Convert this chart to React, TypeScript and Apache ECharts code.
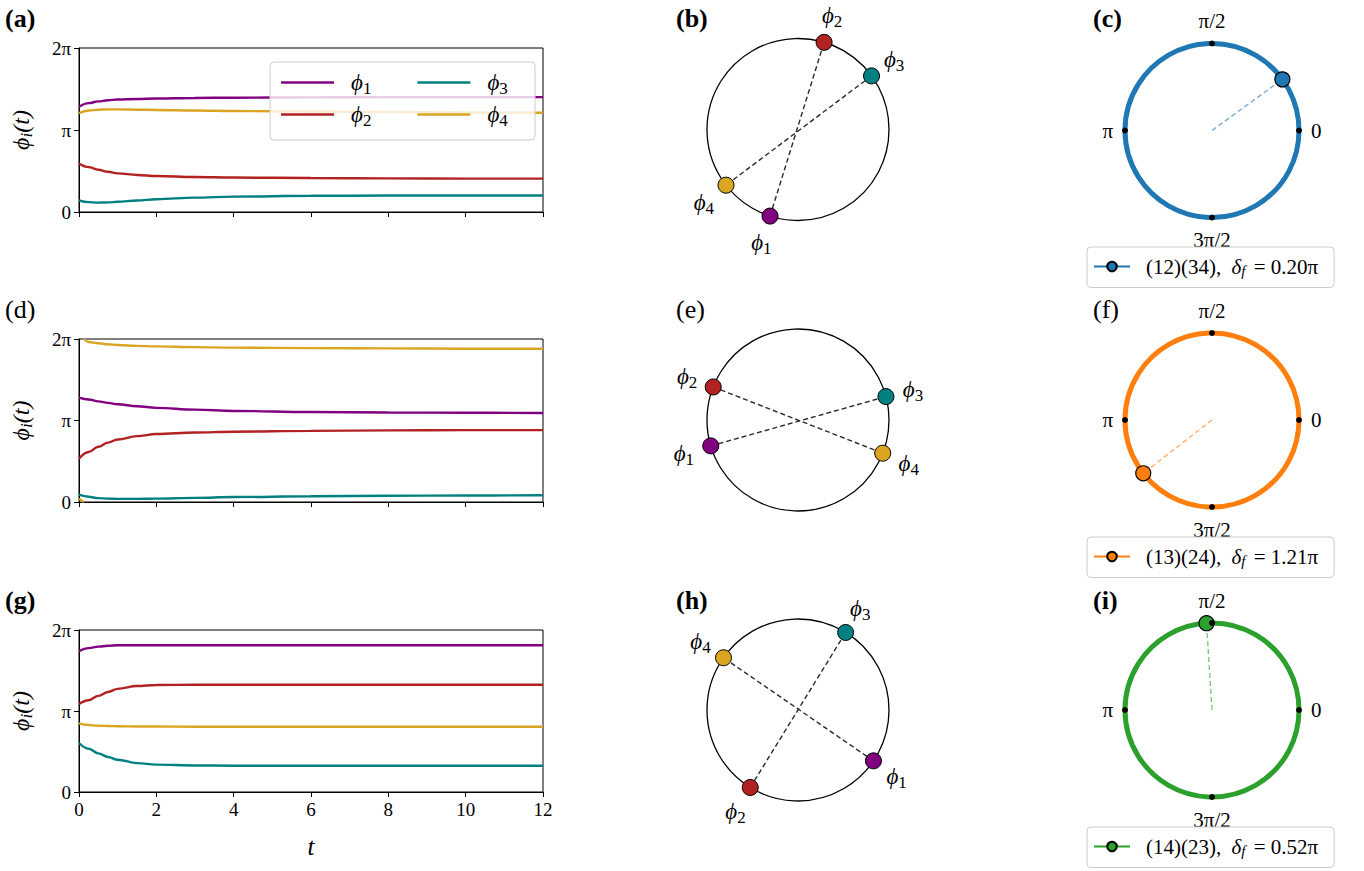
import React, { useEffect, useRef } from 'react';
import * as echarts from 'echarts';

const PI = Math.PI;
const TWO_PI = 2 * Math.PI;

// time samples (shared by all time-series panels)
const T = [0, 0.25, 0.5, 0.75, 1, 1.5, 2, 3, 4, 6, 8, 10, 12];

// panel (a)
const A_PHI1 = [4.03, 4.17, 4.24, 4.28, 4.31, 4.33, 4.35, 4.37, 4.38, 4.39, 4.40, 4.40, 4.40];
const A_PHI2 = [1.86, 1.72, 1.62, 1.54, 1.48, 1.42, 1.38, 1.34, 1.32, 1.30, 1.29, 1.28, 1.28];
const A_PHI3 = [0.44, 0.38, 0.36, 0.37, 0.39, 0.44, 0.49, 0.55, 0.59, 0.62, 0.63, 0.63, 0.63];
const A_PHI4 = [3.79, 3.89, 3.92, 3.93, 3.93, 3.92, 3.91, 3.89, 3.87, 3.85, 3.83, 3.81, 3.80];

// panel (d)
const D_PHI1 = [4.02, 3.95, 3.88, 3.82, 3.77, 3.69, 3.63, 3.56, 3.51, 3.47, 3.45, 3.44, 3.43];
const D_PHI2 = [1.67, 1.93, 2.13, 2.29, 2.41, 2.54, 2.62, 2.68, 2.71, 2.74, 2.76, 2.77, 2.77];
const D_PHI3 = [0.28, 0.20, 0.15, 0.13, 0.12, 0.12, 0.13, 0.16, 0.19, 0.22, 0.24, 0.25, 0.26];
const D_PHI4 = [0.12, 6.17, 6.12, 6.08, 6.05, 6.02, 6.00, 5.97, 5.95, 5.93, 5.92, 5.91, 5.91];

// panel (g)
const G_PHI1 = [5.46, 5.58, 5.64, 5.67, 5.69, 5.69, 5.69, 5.69, 5.69, 5.69, 5.69, 5.69, 5.69];
const G_PHI2 = [3.41, 3.56, 3.73, 3.88, 4.00, 4.11, 4.15, 4.16, 4.16, 4.16, 4.16, 4.16, 4.16];
const G_PHI3 = [1.90, 1.68, 1.50, 1.36, 1.25, 1.12, 1.06, 1.03, 1.02, 1.02, 1.02, 1.02, 1.02];
const G_PHI4 = [2.66, 2.60, 2.57, 2.56, 2.55, 2.54, 2.54, 2.53, 2.53, 2.53, 2.53, 2.53, 2.53];

const OSC_NAMES = ['ϕ1', 'ϕ2', 'ϕ3', 'ϕ4'];
const OSC_COLORS = ['#800080', '#b22222', '#008080', '#daa520'];

const PAIR_LABELS = ['(12)(34)', '(13)(24)', '(14)(23)'];
const PAIRINGS = [
  [[0, 1], [2, 3]],
  [[0, 2], [1, 3]],
  [[0, 3], [1, 2]],
];
const DELTA_F = [0.20, 1.21, 0.52]; // in units of pi
const RING_COLORS = ['#1f77b4', '#ff7f0e', '#2ca02c'];
const RING_DASH_COLORS = ['rgba(31,119,180,0.6)', 'rgba(255,127,14,0.6)', 'rgba(44,160,44,0.6)'];
const RING_TICKS = [0, PI / 2, PI, (3 * PI) / 2];

const Y_TICK_LABELS = ['0', 'π', '2π'];
const RING_TICK_LABELS = ['0', 'π/2', 'π', '3π/2'];

const ROW_PHASES = [
  [A_PHI1, A_PHI2, A_PHI3, A_PHI4],
  [D_PHI1, D_PHI2, D_PHI3, D_PHI4],
  [G_PHI1, G_PHI2, G_PHI3, G_PHI4],
];

const FONT = "'Liberation Serif', 'DejaVu Serif', serif";

// layout
const GRID_LEFT = 79;
const GRID_WIDTH = 464;
const GRID_TOPS = [48, 339, 630];
const GRID_HEIGHTS = [164, 163, 162];
const C2_CX = 798;
const C2_CY = [129.5, 420, 710];
const C2_R = 91;
const C3_CX = 1212;
const C3_CY = [130.5, 420, 710];
const C3_R = 87;
const LEG3_TOPS = [247, 537, 827];
const PANEL_LABELS = [
  ['(a)', '(b)', '(c)'],
  ['(d)', '(e)', '(f)'],
  ['(g)', '(h)', '(i)'],
];
const PANEL_BOLD = [true, false, true];
const PANEL_X = [5, 676, 1093];
const PANEL_Y = [18, 309, 600];

function wrapSeries(t: number[], v: number[]) {
  const out: any[] = [];
  for (let i = 0; i < t.length; i++) {
    if (i > 0) {
      const d = v[i] - v[i - 1];
      if (Math.abs(d) > PI) {
        const vPrev = v[i - 1];
        const vCur = d > 0 ? v[i] - TWO_PI : v[i] + TWO_PI;
        const edgePrev = d > 0 ? 0 : TWO_PI;
        const frac = (edgePrev - vPrev) / (vCur - vPrev);
        const tc = t[i - 1] + frac * (t[i] - t[i - 1]);
        out.push([tc, edgePrev]);
        out.push([tc, '-']);
        out.push([tc, d > 0 ? TWO_PI : 0]);
      }
    }
    out.push([t[i], v[i]]);
  }
  return out;
}

function phiRich(size: number) {
  return {
    p: { fontFamily: FONT, fontStyle: 'italic', fontSize: size, color: '#000' },
    s: { fontFamily: FONT, fontSize: Math.round(size * 0.72), color: '#000', padding: [Math.round(size * 0.5), 0, 0, 0] },
    si: { fontFamily: FONT, fontStyle: 'italic', fontSize: Math.round(size * 0.72), color: '#000', padding: [Math.round(size * 0.5), 0, 0, 0] },
  };
}

function buildOption() {
  const grid: any[] = [];
  const xAxis: any[] = [];
  const yAxis: any[] = [];
  const polar: any[] = [];
  const angleAxis: any[] = [];
  const radiusAxis: any[] = [];
  const series: any[] = [];
  const legend: any[] = [];
  const graphic: any[] = [];

  for (let r = 0; r < 3; r++) {
    grid.push({
      left: GRID_LEFT, top: GRID_TOPS[r], width: GRID_WIDTH, height: GRID_HEIGHTS[r],
      show: true, borderColor: '#000', borderWidth: 1, backgroundColor: 'transparent',
    });
    xAxis.push({
      gridIndex: r, type: 'value', min: 0, max: 12, interval: 2,
      axisLine: { show: true, onZero: false, lineStyle: { color: '#000', width: 1 } },
      axisTick: { show: true, length: 5, lineStyle: { color: '#000', width: 1 } },
      axisLabel: { show: r === 2, fontSize: 19, color: '#000', fontFamily: FONT, margin: 8 },
      splitLine: { show: false },
      name: r === 2 ? 't' : '',
      nameLocation: 'middle', nameGap: 42,
      nameTextStyle: { fontStyle: 'italic', fontSize: 25, fontFamily: FONT, color: '#000' },
    });
    yAxis.push({
      gridIndex: r, type: 'value', min: 0, max: TWO_PI, interval: PI,
      axisLine: { show: true, lineStyle: { color: '#000', width: 1 } },
      axisTick: { show: true, length: 5, lineStyle: { color: '#000', width: 1 } },
      axisLabel: {
        fontSize: 19, color: '#000', fontFamily: FONT, margin: 8,
        formatter: (v: number) => Y_TICK_LABELS[Math.round(v / PI)] ?? '',
      },
      splitLine: { show: false },
      name: '{p|ϕ}{si|i}{p|(t)}',
      nameLocation: 'middle', nameGap: 44, nameRotate: 90,
      nameTextStyle: { rich: phiRich(24) },
    });

    const phases = ROW_PHASES[r];
    phases.forEach((vals, k) => {
      series.push({
        type: 'line', name: OSC_NAMES[k], xAxisIndex: r, yAxisIndex: r,
        data: wrapSeries(T, vals), showSymbol: false, symbol: 'none',
        smooth: 0.4, smoothMonotone: 'x', connectNulls: false,
        lineStyle: { color: OSC_COLORS[k], width: 2.4 }, itemStyle: { color: OSC_COLORS[k] },
        z: 2,
      });
    });

    // column 2: oscillators on a circle
    const p2 = 2 * r;
    const finals = phases.map((vals) => vals[vals.length - 1]);
    polar.push({ center: [C2_CX, C2_CY[r]], radius: C2_R });
    angleAxis.push({
      polarIndex: p2, type: 'value', min: 0, max: TWO_PI, startAngle: 0, clockwise: false,
      axisLine: { show: true, lineStyle: { color: '#000', width: 1.3 } },
      axisTick: { show: false }, axisLabel: { show: false }, splitLine: { show: false }, splitArea: { show: false },
    });
    radiusAxis.push({
      polarIndex: p2, min: 0, max: 1, show: false,
      axisLine: { show: false }, axisTick: { show: false }, axisLabel: { show: false }, splitLine: { show: false },
    });
    PAIRINGS[r].forEach(([i, j]) => {
      series.push({
        type: 'line', coordinateSystem: 'polar', polarIndex: p2, clip: false,
        data: [[1, finals[i]], [1, finals[j]]], symbol: 'none', silent: true,
        lineStyle: { color: '#2a2a2a', width: 1.4, type: [5, 3] }, z: 2,
      });
    });
    series.push({
      type: 'scatter', coordinateSystem: 'polar', polarIndex: p2, symbolSize: 16, z: 4, clip: false,
      data: finals.map((a, k) => ({
        name: OSC_NAMES[k], value: [1, a],
        itemStyle: { color: OSC_COLORS[k], borderColor: '#000', borderWidth: 1, opacity: 1 },
        label: { offset: [28 * Math.cos(a), -28 * Math.sin(a)] },
      })),
      label: {
        show: true, position: 'inside',
        formatter: (p: any) => `{p|ϕ}{s|${p.name.slice(1)}}`,
        rich: phiRich(23),
      },
    });

    // column 3: phase difference ring
    const p3 = 2 * r + 1;
    const delta = DELTA_F[r] * PI;
    polar.push({ center: [C3_CX, C3_CY[r]], radius: C3_R });
    angleAxis.push({
      polarIndex: p3, type: 'value', min: 0, max: TWO_PI, interval: PI / 2, startAngle: 0, clockwise: false,
      axisLine: { show: true, lineStyle: { color: RING_COLORS[r], width: 5 } },
      axisTick: { show: false },
      axisLabel: {
        show: true, margin: 12, fontSize: 21, color: '#000', fontFamily: FONT,
        formatter: (v: number) => {
          const idx = Math.round(v / (PI / 2));
          return idx < 4 ? RING_TICK_LABELS[idx] : '';
        },
      },
      splitLine: { show: false }, splitArea: { show: false },
    });
    radiusAxis.push({
      polarIndex: p3, min: 0, max: 1, show: false,
      axisLine: { show: false }, axisTick: { show: false }, axisLabel: { show: false }, splitLine: { show: false },
    });
    series.push({
      type: 'line', coordinateSystem: 'polar', polarIndex: p3, silent: true, clip: false,
      data: [[0, delta], [0.91, delta]], symbol: 'none',
      lineStyle: { color: RING_DASH_COLORS[r], width: 1.4, type: [5, 3] }, z: 2,
    });
    series.push({
      type: 'line', name: PAIR_LABELS[r], coordinateSystem: 'polar', polarIndex: p3, clip: false,
      data: [[1, delta]], symbol: 'circle', symbolSize: 15, showSymbol: true, showAllSymbol: true,
      lineStyle: { color: RING_COLORS[r], width: 3.5 },
      itemStyle: { color: RING_COLORS[r], borderColor: '#000', borderWidth: 1.2 }, z: 4,
    });
    series.push({
      type: 'scatter', coordinateSystem: 'polar', polarIndex: p3, silent: true, clip: false,
      data: RING_TICKS.map((a) => [1, a]), symbolSize: 6, itemStyle: { color: '#000', opacity: 1 }, z: 6,
    });
    legend.push({
      data: [PAIR_LABELS[r]], left: 1087, top: LEG3_TOPS[r], orient: 'horizontal',
      itemWidth: 36, itemHeight: 12, selectedMode: false,
      padding: [9, 16, 9, 6],
      backgroundColor: 'rgba(255,255,255,0.8)', borderColor: '#cccccc', borderWidth: 1, borderRadius: 4,
      formatter: (name: string) => `{g|}{a|${name}, }{d|δ}{f|f}{a| = ${DELTA_F[r].toFixed(2)}π}`,
      textStyle: {
        rich: {
          g: { width: 11 },
          a: { fontFamily: FONT, fontSize: 21, color: '#000' },
          d: { fontFamily: FONT, fontSize: 21, fontStyle: 'italic', color: '#000', padding: [0, 0, 0, 5] },
          f: { fontFamily: FONT, fontSize: 15, fontStyle: 'italic', color: '#000', padding: [9, 3, 0, 0] },
        },
      },
      z: 8,
    });

    // panel labels
    for (let c = 0; c < 3; c++) {
      graphic.push({
        type: 'text', x: PANEL_X[c], y: PANEL_Y[r], z: 10,
        style: {
          text: PANEL_LABELS[r][c], fill: '#000', font: `${PANEL_BOLD[r] ? 'bold ' : ''}26px ${FONT}`,
          textVerticalAlign: 'middle', verticalAlign: 'middle',
        },
      });
    }
  }

  // legend of panel (a): two rows, sharing one frame
  graphic.push({
    type: 'rect', x: 270, y: 62, z: 5, silent: true,
    shape: { width: 265, height: 78, r: 4 },
    style: { fill: 'rgba(255,255,255,0.8)', stroke: '#cccccc', lineWidth: 1 },
  });
  const rowLegend = (names: string[], top: number) => ({
    data: names, left: 281, top, orient: 'horizontal', itemGap: 46,
    icon: 'rect', itemWidth: 53, itemHeight: 2.5, selectedMode: false, padding: 0, z: 8,
    formatter: (name: string) => `{g|}{p|ϕ}{s|${name.slice(1)}}`,
    textStyle: { rich: { ...phiRich(23), g: { width: 12 } } },
  });
  legend.push(rowLegend(['ϕ1', 'ϕ3'], 71));
  legend.push(rowLegend(['ϕ2', 'ϕ4'], 103));

  return {
    animation: false,
    backgroundColor: '#fff',
    grid, xAxis, yAxis, polar, angleAxis, radiusAxis, series, legend,
    graphic: { elements: graphic },
  };
}

export default function App() {
  const ref = useRef<HTMLDivElement>(null);
  useEffect(() => {
    document.body.style.margin = '0';
    const chart = echarts.init(ref.current!, null, { renderer: 'svg' });
    chart.setOption(buildOption() as any);
    return () => chart.dispose();
  }, []);
  return (
    <div
      ref={ref}
      style={{ position: 'fixed', left: 0, top: 0, width: 1364, height: 871, background: '#fff' }}
    />
  );
}
